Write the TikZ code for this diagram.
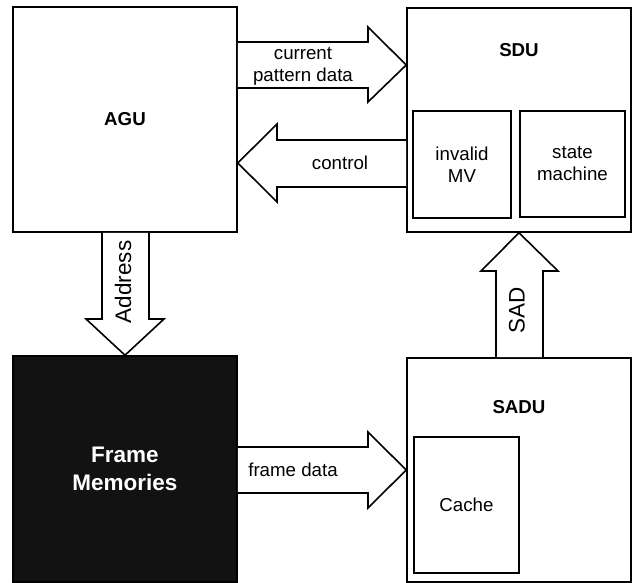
\documentclass[tikz,border=0pt]{standalone}
\usepackage{fontspec}
\setmainfont{Liberation Sans}
\usetikzlibrary{positioning}

\tikzset{
  unit/.style={draw, line width=1.6pt, minimum width=224pt, minimum height=224pt, inner sep=0pt},
  sub/.style={draw, line width=1.6pt, inner sep=0pt, align=center},
  fat/.style={draw, line width=1.6pt, fill=white, line join=miter},
  lbl/.style={align=center, inner sep=0pt},
  vlbl/.style={rotate=90, inner sep=0pt, font=\fontsize{22.5}{27}\selectfont},
  title/.style={font=\fontsize{18.7}{22}\selectfont\bfseries, inner sep=0pt}
}

\begin{document}
\begin{tikzpicture}[x=1pt, y=-1pt, font=\fontsize{18.7}{22}\selectfont]
\useasboundingbox (0,0) rectangle (633,583);

% the four units
\node[unit, minimum height=225pt, title] (agu) at (125,119.5) {AGU};
\node[unit] (sdu) at (519,120) {};
\node[unit, fill=black!93, text=white, minimum height=226pt,
  font=\fontsize{22.5}{28}\selectfont\bfseries, align=center] (fm) at (125,469) {Frame\\Memories};
\node[unit] (sadu) at (519,470) {};

\node[title] (sdut) at (519,50) {SDU};
\node[title] (sadut) at (519,407) {SADU};

% blocks inside SDU and SADU
\node[sub, minimum width=98pt, minimum height=107pt] (inv) at (462,164.5) {invalid\\MV};
\node[sub, minimum width=105pt, minimum height=106pt] (fsm) at (572.5,164) {state\\machine};
\node[sub, minimum width=105pt, minimum height=136pt] (cache) at (466.5,505) {Cache};

% wide arrows between the units
\draw[fat] (agu.east |- 0,42) -- (368,42) -- (368,27) -- (sdu.west |- 0,65)
  -- (368,102) -- (368,88) -- (agu.east |- 0,88);
\node[lbl] (pat) at (303,66) {current\\pattern data};

\draw[fat] (sdu.west |- 0,140) -- (277,140) -- (277,124) -- (agu.east |- 0,163)
  -- (277,202) -- (277,187) -- (sdu.west |- 0,187);
\node[lbl] (ctl) at (340,163) {control};

\draw[fat] (fm.east |- 0,447) -- (368,447) -- (368,432) -- (sadu.west |- 0,470)
  -- (368,508) -- (368,493) -- (fm.east |- 0,493);
\node[lbl] (fdat) at (293,470) {frame data};

\draw[fat] (agu.south -| 102,0) -- (102,319) -- (86,319) -- (fm.north)
  -- (164,319) -- (149,319) -- (agu.south -| 149,0);
\node[vlbl] (addr) at (123,282) {Address};

\draw[fat] (sadu.north -| 496,0) -- (496,271) -- (481,271) -- (sdu.south)
  -- (558,271) -- (543,271) -- (sadu.north -| 543,0);
\node[vlbl] (sad) at (517,310) {SAD};

\end{tikzpicture}
\end{document}
